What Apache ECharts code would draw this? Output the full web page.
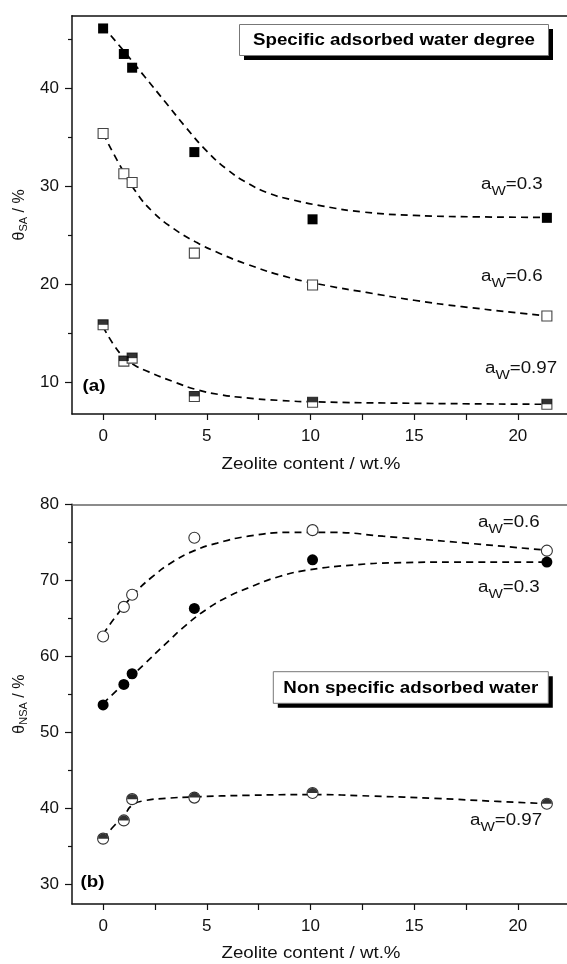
<!DOCTYPE html>
<html>
<head>
<meta charset="utf-8">
<script src="https://cdn.jsdelivr.net/npm/echarts@6/dist/echarts.min.js"></script>
<style>
  html, body { margin: 0; padding: 0; background: #fff; }
  #chart { width: 567px; height: 964px; }
</style>
</head>
<body>
<div id="chart"></div>
<script>
// Zeolite content (wt.%) of the measured samples
const zeolite = [0, 1, 1.4, 4.4, 10.1, 21.4];

// (a) specific adsorbed water degree, %
const sa03  = [46.1, 43.5, 42.1, 33.5, 26.65, 26.8];
const sa06  = [35.4, 31.3, 30.4, 23.2, 19.95, 16.8];
const sa097 = [15.9, 12.2, 12.5, 8.6, 8.0, 7.8];

// (b) non specific adsorbed water, %
const nsa06  = [62.6, 66.5, 68.1, 75.6, 76.6, 73.9];
const nsa03  = [53.6, 56.3, 57.7, 66.3, 72.7, 72.4];
const nsa097 = [36.0, 38.4, 41.2, 41.4, 42.0, 40.6];

// dashed guide curves (x, y pairs)
const fitSa03X  = [0, 1, 2, 3, 4, 5, 6, 7, 8, 9, 10.6, 12.5, 15, 18, 21.4];
const fitSa03Y  = [46.3, 43.8, 41.2, 38.6, 36.0, 33.6, 31.7, 30.3, 29.3, 28.7, 28.0, 27.4, 27.05, 26.9, 26.85];
const fitSa06X  = [0, 0.8, 1.6, 2.4, 3.4, 4.5, 5.6, 6.9, 9, 10.9, 12.7, 15, 17.3, 21.4];
const fitSa06Y  = [35.4, 32.2, 29.4, 27.4, 25.7, 24.3, 23.2, 22.1, 20.7, 19.85, 19.2, 18.4, 17.75, 16.8];
const fitSa097X = [0, 0.5, 1, 1.5, 2.2, 3.4, 4.5, 5.6, 6.9, 8.5, 10.1, 15, 21.4];
const fitSa097Y = [15.7, 13.9, 12.6, 11.8, 11.1, 10.1, 9.3, 8.8, 8.45, 8.2, 8.05, 7.9, 7.8];

const fitNsa06X  = [0, 0.6, 1.5, 2.3, 3.4, 4.4, 5.5, 7, 9, 11, 13.5, 17.5, 21.4];
const fitNsa06Y  = [62.9, 65.2, 68.2, 70.3, 72.5, 73.9, 74.9, 75.8, 76.3, 76.3, 75.8, 74.9, 73.95];
const fitNsa03X  = [0, 1, 2, 3, 4, 5, 6, 7, 8.5, 10, 12, 14, 17.5, 21.4];
const fitNsa03Y  = [53.8, 56.4, 59.0, 61.6, 64.1, 66.2, 67.8, 69.0, 70.5, 71.4, 72.0, 72.3, 72.4, 72.4];
const fitNsa097X = [0, 0.5, 1, 1.4, 2, 3, 4.4, 7, 10, 13, 16, 19, 21.4];
const fitNsa097Y = [36.0, 37.6, 39.0, 40.4, 41.0, 41.3, 41.5, 41.7, 41.8, 41.6, 41.3, 40.9, 40.6];

// tick values
const xTickLabels = [0, 5, 10, 15, 20];
const xTickMarks  = [0, 2.5, 5, 7.5, 10, 12.5, 15, 17.5, 20];
const saMajor  = [10, 20, 30, 40];
const saMinor  = [15, 25, 35, 45];
const nsaMajor = [30, 40, 50, 60, 70, 80];
const nsaMinor = [35, 45, 55, 65, 75];

const FONT = '"Liberation Sans", Arial, Helvetica, sans-serif';
const INK = '#111';
const WIDE = 1.17;   // horizontal stretch of the lettering

const pairs = (xs, ys) => xs.map((x, i) => [x, ys[i]]);

const chart = echarts.init(document.getElementById('chart'), null, { renderer: 'canvas' });

const xMin = -1.5, xMax = 22.37;

function bottomX(grid) {
  return {
    gridIndex: grid, type: 'value', min: xMin, max: xMax, position: 'bottom',
    axisLine: { show: true, onZero: false, lineStyle: { color: INK, width: 1.5 } },
    axisTick: { show: true, customValues: xTickMarks, length: 6, lineStyle: { color: INK, width: 1.2 } },
    axisLabel: { show: true, customValues: xTickLabels, fontSize: 17, color: INK, fontFamily: FONT, margin: 14 },
    splitLine: { show: false }
  };
}
function topX(grid, color) {
  return {
    gridIndex: grid, type: 'value', min: xMin, max: xMax, position: 'top',
    axisLine: { show: true, onZero: false, lineStyle: { color: color, width: 1.5 } },
    axisTick: { show: false }, axisLabel: { show: false }, splitLine: { show: false }
  };
}
function leftY(grid, min, max, major, nameRich) {
  return {
    gridIndex: grid, type: 'value', min: min, max: max, position: 'left',
    axisLine: { show: true, onZero: false, lineStyle: { color: INK, width: 1.5 } },
    axisTick: { show: true, customValues: major, length: 7, lineStyle: { color: INK, width: 1.2 } },
    axisLabel: { show: true, customValues: major, fontSize: 17, color: INK, fontFamily: FONT, margin: 13 },
    splitLine: { show: false },
    name: nameRich, nameLocation: 'middle', nameRotate: 90, nameGap: 38,
    nameTextStyle: {
      color: INK, fontFamily: FONT,
      rich: {
        t: { fontSize: 16, fontFamily: FONT, color: INK },
        s: { fontSize: 11, fontFamily: FONT, color: INK, padding: [9, 0, 0, 0] }
      }
    }
  };
}
function minorY(grid, min, max, minor) {
  return {
    gridIndex: grid, type: 'value', min: min, max: max, position: 'left',
    axisLine: { show: false, onZero: false },
    axisTick: { show: true, customValues: minor, length: 4, lineStyle: { color: INK, width: 1.2 } },
    axisLabel: { show: false }, splitLine: { show: false }
  };
}

function curve(xi, yi, xs, ys) {
  return {
    type: 'line', xAxisIndex: xi, yAxisIndex: yi, data: pairs(xs, ys),
    smooth: 0.5, showSymbol: false, symbol: 'none', silent: true, z: 2,
    lineStyle: { color: '#000', width: 1.7, type: [7, 5] }
  };
}
function marks(xi, yi, ys, symbol, fill, border, size) {
  return {
    type: 'scatter', xAxisIndex: xi, yAxisIndex: yi, data: pairs(zeolite, ys),
    symbol: symbol, symbolSize: size || 10, z: 5,
    itemStyle: { color: fill, borderColor: border, borderWidth: border ? 1.1 : 0, opacity: 1 }
  };
}
function topHalf(xi, yi, ys, path) {
  return {
    type: 'scatter', xAxisIndex: xi, yAxisIndex: yi, data: pairs(zeolite, ys),
    symbol: path, symbolSize: [10, 5], symbolOffset: [0, -2.5], symbolKeepAspect: false, z: 6,
    itemStyle: { color: '#000' }
  };
}

const halfRect = 'path://M0,0L10,0L10,5L0,5Z';
const halfDisc = 'path://M0,5A5,5 0 0 1 10,5Z';

function awLabel(x, y, value) {
  return {
    type: 'text', x: x, y: y, z: 20, scaleX: WIDE,
    style: {
      text: '{a|a}{s|W}{a|=' + value + '}',
      verticalAlign: 'top', align: 'left',
      rich: {
        a: { fontSize: 16, fontFamily: FONT, fill: INK, color: INK, lineHeight: 18, verticalAlign: 'top' },
        s: { fontSize: 13, fontFamily: FONT, fill: INK, color: INK, lineHeight: 14, verticalAlign: 'top', padding: [8, 0, 0, 0] }
      }
    }
  };
}
function titleBox(x, y, w, h, text) {
  return {
    type: 'group', z: 20,
    children: [
      { type: 'rect', shape: { x: x + 4.5, y: y + 4.5, width: w, height: h }, style: { fill: '#000' } },
      { type: 'rect', shape: { x: x, y: y, width: w, height: h }, style: { fill: '#fff', stroke: '#777', lineWidth: 1 } },
      { type: 'text', x: x + w / 2, y: y + h / 2 + 1, scaleX: WIDE,
        style: { text: text, align: 'center', verticalAlign: 'middle', font: 'bold 16px ' + FONT, fill: '#000' } }
    ]
  };
}
function panelTag(x, y, text) {
  return { type: 'text', x: x, y: y, z: 20, scaleX: WIDE,
    style: { text: text, align: 'left', verticalAlign: 'middle', font: 'bold 16px ' + FONT, fill: '#000' } };
}
function xTitle(y) {
  return { type: 'text', x: 311, y: y, z: 20, scaleX: WIDE,
    style: { text: 'Zeolite content / wt.%', align: 'center', verticalAlign: 'middle', font: '16px ' + FONT, fill: INK } };
}

const option = {
  animation: false,
  backgroundColor: '#fff',
  grid: [
    { left: 72, right: 0, top: 15.7, height: 398.3 },
    { left: 72, right: 0, top: 504.3, height: 399.7 }
  ],
  xAxis: [bottomX(0), topX(0, INK), bottomX(1), topX(1, '#666')],
  yAxis: [
    leftY(0, 6.81, 47.4, saMajor, '{t|θ}{s|SA}{t| / %}'),
    minorY(0, 6.81, 47.4, saMinor),
    leftY(1, 27.4, 80, nsaMajor, '{t|θ}{s|NSA}{t| / %}'),
    minorY(1, 27.4, 80, nsaMinor)
  ],
  series: [
    curve(0, 0, fitSa03X, fitSa03Y),
    curve(0, 0, fitSa06X, fitSa06Y),
    curve(0, 0, fitSa097X, fitSa097Y),
    marks(0, 0, sa03, 'rect', '#000', null),
    marks(0, 0, sa06, 'rect', '#fff', '#444'),
    marks(0, 0, sa097, 'rect', '#fff', '#444'),
    topHalf(0, 0, sa097, halfRect),

    curve(2, 2, fitNsa06X, fitNsa06Y),
    curve(2, 2, fitNsa03X, fitNsa03Y),
    curve(2, 2, fitNsa097X, fitNsa097Y),
    marks(2, 2, nsa06, 'circle', '#fff', '#333', 11),
    marks(2, 2, nsa03, 'circle', '#000', null, 11),
    marks(2, 2, nsa097, 'circle', '#fff', '#333', 11),
    topHalf(2, 2, nsa097, halfDisc)
  ],
  graphic: [
    titleBox(239.5, 24.5, 309, 31, 'Specific adsorbed water degree'),
    titleBox(273.3, 671.7, 275, 31.6, 'Non specific adsorbed water'),
    panelTag(82.5, 387, '(a)'),
    panelTag(80.5, 883, '(b)'),
    xTitle(465),
    xTitle(954),
    awLabel(481, 177, '0.3'),
    awLabel(481, 268.5, '0.6'),
    awLabel(485, 361, '0.97'),
    awLabel(478, 515, '0.6'),
    awLabel(478, 580, '0.3'),
    awLabel(470, 813, '0.97')
  ]
};

chart.setOption(option);
</script>
</body>
</html>
